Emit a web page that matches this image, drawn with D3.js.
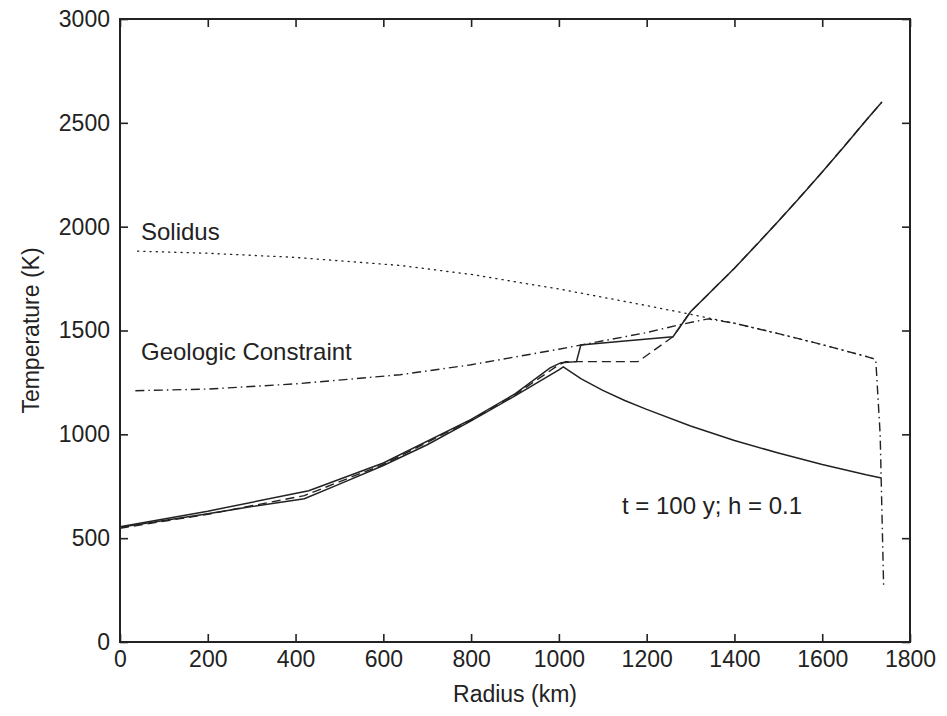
<!DOCTYPE html>
<html>
<head>
<meta charset="utf-8">
<script src="https://cdn.jsdelivr.net/npm/d3@7"></script>
<style>
  body { margin:0; background:#fff; }
  svg text { font-family:"Liberation Sans", Arial, sans-serif; fill:#222; }
</style>
</head>
<body>
<svg id="svg__container" width="947" height="716"></svg>
<script>
// radius (km) / temperature (K)
const solidusR=[40, 200, 400, 640, 800, 1000, 1200, 1300, 1400, 1500, 1600, 1700, 1722];
const solidusT=[1882, 1872, 1852, 1813, 1770, 1700, 1620, 1578, 1535, 1485, 1432, 1375, 1362];

const geologicR=[35, 200, 400, 638, 800, 1000, 1200, 1280, 1340, 1400, 1500, 1600, 1700, 1722, 1732, 1740];
const geologicT=[1210, 1218, 1243, 1287, 1335, 1410, 1490, 1530, 1556, 1535, 1485, 1432, 1375, 1360, 1000, 260];

const coolingR=[0, 100, 200, 300, 420, 500, 600, 700, 800, 900, 1000, 1010, 1050, 1100, 1150, 1200, 1300, 1400, 1500, 1600, 1700, 1735];
const coolingT=[552, 585, 618, 652, 690, 760, 850, 950, 1065, 1185, 1310, 1325, 1268, 1212, 1163, 1120, 1040, 970, 910, 855, 805, 790];

const heatingR=[0, 200, 430, 600, 800, 900, 980, 1005, 1040, 1050, 1150, 1260, 1300, 1350, 1400, 1450, 1500, 1550, 1600, 1650, 1700, 1736];
const heatingT=[555, 630, 728, 862, 1072, 1195, 1320, 1345, 1350, 1430, 1450, 1470, 1590, 1695, 1800, 1912, 2026, 2143, 2263, 2386, 2512, 2600];

const dashedR=[0, 200, 420, 600, 800, 900, 1000, 1015, 1180, 1260, 1300, 1400, 1500, 1600, 1700, 1736];
const dashedT=[548, 615, 705, 855, 1068, 1190, 1335, 1350, 1350, 1470, 1590, 1800, 2026, 2263, 2512, 2600];

const xTicks=[0, 200, 400, 600, 800, 1000, 1200, 1400, 1600, 1800];
const yTicks=[0, 500, 1000, 1500, 2000, 2500, 3000];

const svgTag=d3.select("#svg__container");
const plotLeft=120, plotRight=910, plotTop=19, plotBottom=642;
const tickLen=8;

const xScale=d3.scaleLinear().domain([0, 1800]).range([plotLeft, plotRight]);
const yScale=d3.scaleLinear().domain([0, 3000]).range([plotBottom, plotTop]);

function toPoints(rs, ts) {
    return rs.map((r, i)=>[r, ts[i]]);
}

const line=d3.line()
    .x(d=>xScale(d[0]))
    .y(d=>yScale(d[1]));

// curves
const curves=[
    { pts:toPoints(solidusR, solidusT), dash:"1.2,5", width:1.3, cap:"round" },
    { pts:toPoints(dashedR, dashedT), dash:"9,5", width:1.4, cap:"butt" },
    { pts:toPoints(geologicR, geologicT), dash:"9,4,1.5,4", width:1.4, cap:"butt" },
    { pts:toPoints(coolingR, coolingT), dash:null, width:1.5, cap:"butt" },
    { pts:toPoints(heatingR, heatingT), dash:null, width:1.5, cap:"butt" }
];
const curveG=svgTag.append("g");
curves.forEach(c=>{
    curveG.append("path")
        .attr("d", line(c.pts))
        .attr("fill", "none")
        .attr("stroke", "#222")
        .attr("stroke-width", c.width)
        .attr("stroke-linecap", c.cap)
        .attr("stroke-dasharray", c.dash);
});

// axes, inward ticks on all four sides
function styleAxis(g) {
    g.select(".domain").remove();
    g.selectAll(".tick line").attr("stroke", "#222").attr("stroke-width", 1.6);
    g.selectAll(".tick text").attr("font-size", 23).attr("fill", "#222")
        .attr("font-family", "Liberation Sans, Arial, sans-serif");
}

svgTag.append("g")
    .attr("transform", `translate(0,${plotBottom})`)
    .call(d3.axisBottom(xScale).tickValues(xTicks).tickFormat(d3.format("d"))
        .tickSizeInner(-tickLen).tickSizeOuter(0).tickPadding(9))
    .call(styleAxis);
svgTag.append("g")
    .attr("transform", `translate(0,${plotTop})`)
    .call(d3.axisTop(xScale).tickValues(xTicks).tickFormat("")
        .tickSizeInner(-tickLen).tickSizeOuter(0))
    .call(styleAxis);
svgTag.append("g")
    .attr("transform", `translate(${plotLeft},0)`)
    .call(d3.axisLeft(yScale).tickValues(yTicks).tickFormat(d3.format("d"))
        .tickSizeInner(-tickLen).tickSizeOuter(0).tickPadding(10))
    .call(styleAxis);
svgTag.append("g")
    .attr("transform", `translate(${plotRight},0)`)
    .call(d3.axisRight(yScale).tickValues(yTicks).tickFormat("")
        .tickSizeInner(-tickLen).tickSizeOuter(0))
    .call(styleAxis);

// frame
svgTag.append("rect")
    .attr("x", plotLeft).attr("y", plotTop)
    .attr("width", plotRight-plotLeft).attr("height", plotBottom-plotTop)
    .attr("fill", "none").attr("stroke", "#222").attr("stroke-width", 2);

// axis titles
svgTag.append("text")
    .attr("x", (plotLeft+plotRight)/2).attr("y", 702)
    .attr("text-anchor", "middle").attr("font-size", 23)
    .text("Radius (km)");
svgTag.append("text")
    .attr("transform", `translate(39,${(plotTop+plotBottom)/2}) rotate(-90)`)
    .attr("text-anchor", "middle").attr("font-size", 23)
    .text("Temperature (K)");

// annotations
svgTag.append("text").attr("x", 141).attr("y", 240).attr("font-size", 24).text("Solidus");
svgTag.append("text").attr("x", 141).attr("y", 360).attr("font-size", 24).text("Geologic Constraint");
svgTag.append("text").attr("x", 622).attr("y", 514).attr("font-size", 24).text("t = 100 y; h = 0.1");
</script>
</body>
</html>
